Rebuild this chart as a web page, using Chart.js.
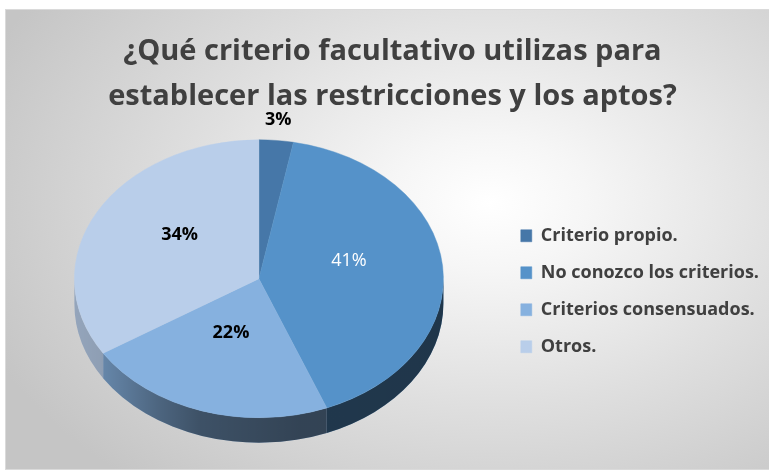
<!DOCTYPE html>
<html>
<head>
<meta charset="utf-8">
<script src="https://cdn.jsdelivr.net/npm/chart.js@4.4.1/dist/chart.umd.min.js"></script>
<style>
  html, body { margin: 0; padding: 0; background: #fff; }
  body { width: 769px; height: 471px; position: relative; overflow: hidden; }
  #box {
    position: absolute; left: 5px; top: 9px; width: 780px; height: 459px;
    border: 1px solid #dadada;
    background: radial-gradient(ellipse 70% 80% at 62% 42%, #ffffff 0%, #f6f6f6 18%, #dfdfdf 55%, #c5c5c5 100%);
  }
  #myChart { position: absolute; left: 0; top: 0; }
</style>
</head>
<body>
<div id="box"></div>
<canvas id="myChart" width="769" height="471"></canvas>
<script>
var categorias = ['Criterio propio.', 'No conozco los criterios.', 'Criterios consensuados.', 'Otros.'];
var porcentajes = [3, 41, 22, 34];
var titulo = ['¿Qué criterio facultativo utilizas para', 'establecer las restricciones y los aptos?'];

var colores = ['#4677A8', '#5592C9', '#86B1DF', '#B9CEEA'];
var colorEtiqueta = ['#000000', '#ffffff', '#000000', '#000000'];
var negrita = [true, false, true, true];
var fuente = '"Open Sans", Lato, sans-serif';

// finds the part of an arc that faces the viewer (bottom half of the ellipse)
function partesFrontales(s, e) {
  var out = [];
  for (var k = -1; k <= 1; k++) {
    var lo = Math.max(s, 2 * Math.PI * k);
    var hi = Math.min(e, 2 * Math.PI * k + Math.PI);
    if (hi > lo) out.push([lo, hi]);
  }
  return out;
}

var pie3d = {
  id: 'pie3d',
  beforeDatasetsDraw: function(chart, args, opts) {
    var arcs = chart.getDatasetMeta(0).data;
    var ctx = chart.ctx;
    var p = arcs[0].getProps(['x', 'y', 'outerRadius'], true);
    var x = p.x, y = p.y, r = p.outerRadius;
    var ry = r * opts.tilt;
    var cy = y - opts.depth / 2;
    ctx.save();
    arcs.forEach(function(arc) {
      var a = arc.getProps(['startAngle', 'endAngle'], true);
      partesFrontales(a.startAngle, a.endAngle).forEach(function(seg) {
        ctx.beginPath();
        ctx.ellipse(x, cy, r, ry, 0, seg[0], seg[1], false);
        ctx.ellipse(x, cy + opts.depth, r, ry, 0, seg[1], seg[0], true);
        ctx.closePath();
        ctx.fillStyle = arc.options.backgroundColor;
        ctx.fill();
        var g = ctx.createLinearGradient(x - r, 0, x + r, 0);
        g.addColorStop(0, 'rgba(0,0,0,0.20)');
        g.addColorStop(0.07, 'rgba(0,0,0,0.23)');
        g.addColorStop(0.23, 'rgba(0,0,0,0.43)');
        g.addColorStop(0.34, 'rgba(0,0,0,0.54)');
        g.addColorStop(0.61, 'rgba(0,0,0,0.62)');
        g.addColorStop(1, 'rgba(0,0,0,0.63)');
        ctx.fillStyle = g;
        ctx.fill();
      });
    });
    ctx.restore();
    ctx.save();
    ctx.translate(x, cy);
    ctx.scale(1, opts.tilt);
    ctx.translate(-x, -y);
  },
  afterDatasetsDraw: function(chart) {
    chart.ctx.restore();
  }
};

var etiquetas = {
  id: 'etiquetas',
  afterDraw: function(chart, args, opts) {
    var arcs = chart.getDatasetMeta(0).data;
    var ctx = chart.ctx;
    var total = porcentajes.reduce(function(a, b) { return a + b; }, 0);
    ctx.save();
    ctx.textAlign = 'center';
    ctx.textBaseline = 'middle';
    arcs.forEach(function(arc, i) {
      var p = arc.getProps(['x', 'y', 'outerRadius', 'startAngle', 'endAngle'], true);
      var cy = p.y - opts.depth / 2;
      var mid = (p.startAngle + p.endAngle) / 2;
      var c = Math.cos(mid), s = Math.sin(mid);
      var frac = porcentajes[i] / total;
      var lx, ly;
      if (frac < 0.05) {
        lx = p.x + p.outerRadius * c + c * opts.gap;
        ly = cy + p.outerRadius * opts.tilt * s + s * opts.gap;
      } else {
        lx = p.x + 0.49 * p.outerRadius * c;
        ly = cy + 0.49 * p.outerRadius * opts.tilt * s + opts.lift;
      }
      ctx.font = (negrita[i] ? 'bold ' : '') + '18px ' + fuente;
      ctx.fillStyle = colorEtiqueta[i];
      ctx.fillText(Math.round(frac * 100) + '%', lx, ly);
    });
    ctx.restore();
  }
};

var ctx = document.getElementById('myChart');
var chart = new Chart(ctx, {
  type: 'pie',
  data: {
    labels: categorias,
    datasets: [{
      data: porcentajes,
      backgroundColor: colores,
      borderColor: colores,
      borderWidth: 0.5
    }]
  },
  options: {
    responsive: false,
    animation: false,
    events: [],
    radius: 184.5,
    layout: { padding: { left: 16, right: 0, top: 0, bottom: 8 } },
    plugins: {
      title: {
        display: true,
        text: titulo,
        color: '#404040',
        font: { family: fuente, size: 29, weight: 'bold', lineHeight: 1.552 },
        padding: { top: 29.5, bottom: 0 }
      },
      legend: {
        position: 'right',
        fullSize: false,
        labels: {
          color: '#404040',
          font: { family: fuente, size: 18, weight: 'bold' },
          boxWidth: 11,
          boxHeight: 12,
          padding: 19
        }
      },
      tooltip: { enabled: false },
      pie3d: { tilt: 0.753, depth: 25 },
      etiquetas: { tilt: 0.753, depth: 25, gap: 21, lift: -11 }
    }
  },
  plugins: [pie3d, etiquetas]
});
</script>
</body>
</html>
